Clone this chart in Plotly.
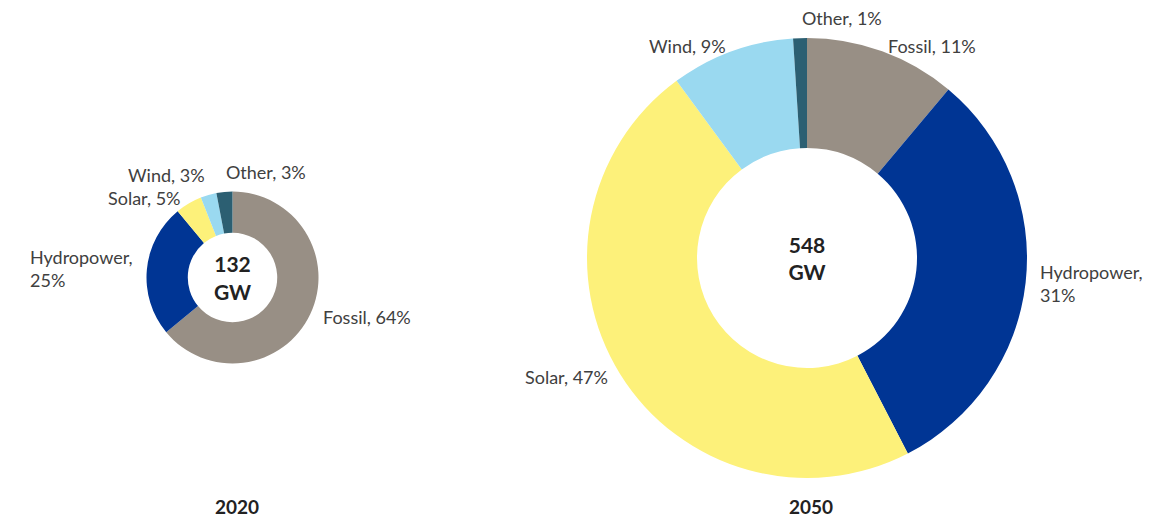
import math
import plotly.graph_objects as go

# Capacity mix, share of total (%)
sources = ["Fossil", "Hydropower", "Solar", "Wind", "Other"]
share_2020 = [64, 25, 5, 3, 3]
share_2050 = [11, 31, 47, 9, 1]
totals = [132, 548]
years = ["2020", "2050"]

colors = ["#988f85", "#003594", "#fdf17a", "#9ad9f0", "#2c5f72"]
txt_col = "#404040"
dark = "#222222"
font_fam = "Lato, Open Sans, sans-serif"

W, H = 1176, 516
OFF = 8  # page body margin in the browser

# donut geometry in page pixels: centre x, centre y, outer radius
geo = [(232.5, 277.5, 86), (807, 258, 220)]
holes = [0.52, 0.5]


def label_text(name, v):
    if name == "Hydropower":
        return f"{name},<br>{v}%"
    return f"{name}, {v}%"


fig = go.Figure()

for vals, tot, yr, (cx, cy, r), hole in zip([share_2020, share_2050], totals, years, geo, holes):
    cx, cy = cx - OFF, cy - OFF
    fig.add_trace(go.Pie(
        labels=sources, values=vals, textinfo="none",
        hole=hole, sort=False, direction="clockwise", rotation=0,
        marker=dict(colors=colors, line=dict(width=0)),
        domain=dict(x=[(cx - r) / W, (cx + r) / W], y=[(H - cy - r) / H, (H - cy + r) / H]),
        title=dict(text=f"<b>{tot}<br>GW</b>", position="middle center",
                   font=dict(size=21, color=dark, family=font_fam)),
        showlegend=False, hoverinfo="label+percent",
    ))

    # outside labels placed at each slice's mid-angle
    total = sum(vals)
    start = 0.0
    for name, v in zip(sources, vals):
        mid = math.radians((start + v / 2) / total * 360)
        start += v
        s, c = math.sin(mid), math.cos(mid)
        if c > 0.95:
            gx, gy, ya = 7, 7, "bottom"
        else:
            gx, gy, ya = 12, 6, "middle"
        lx = cx + (r + gx) * s
        ly = cy - (r + gy) * c
        xa = "left" if s > -0.1 else "right"
        fig.add_annotation(text=label_text(name, v), x=lx / W, y=1 - ly / H,
                           xref="paper", yref="paper", showarrow=False,
                           xanchor=xa, yanchor=ya, align="left",
                           font=dict(size=18, color=txt_col, family=font_fam))

    # year caption under each donut
    fig.add_annotation(text=f"<b>{yr}</b>", x=(cx + 4) / W, y=1 - (506 - OFF) / H,
                       xref="paper", yref="paper", showarrow=False,
                       xanchor="center", yanchor="middle",
                       font=dict(size=19, color=dark, family=font_fam))

fig.update_layout(width=W, height=H, margin=dict(l=0, r=0, t=0, b=0),
                  paper_bgcolor="white", plot_bgcolor="white")

fig.write_html("out.html")
